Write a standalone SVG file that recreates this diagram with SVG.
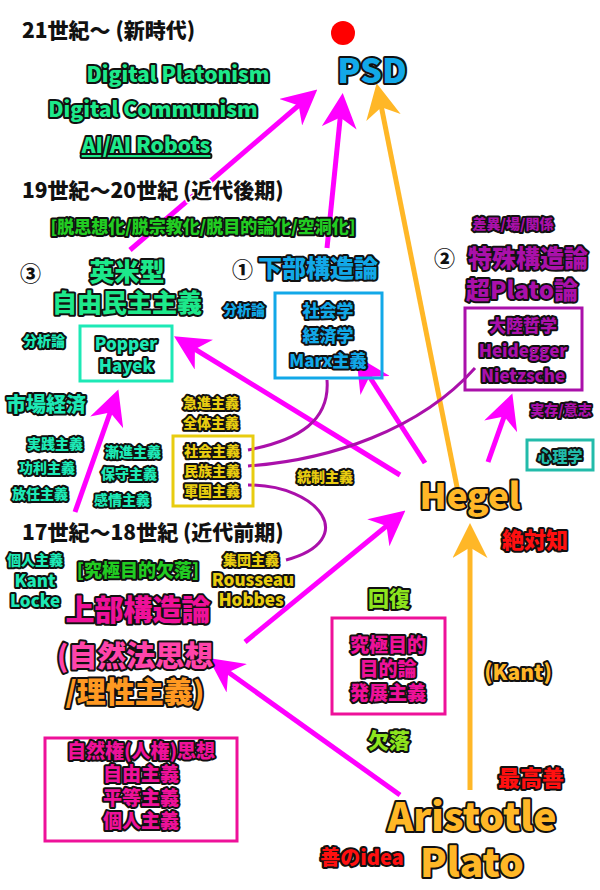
<svg xmlns="http://www.w3.org/2000/svg" width="600" height="890" viewBox="0 0 600 890">
<style>
text{font-family:"Noto Sans CJK JP","Noto Sans",sans-serif;font-weight:900;text-anchor:middle;paint-order:stroke;stroke:#111;stroke-width:4;stroke-linejoin:round}
.h{fill:#111;stroke:#fff;stroke-width:3;text-anchor:start;font-size:21px}
.g{fill:#1de98b}.t{fill:#1de9b6}.b{fill:#12a8e8}.p{fill:#aa10aa}.y{fill:#e8cc10}.o{fill:#ffb727}.r{fill:#ff1010}.k{fill:#ee1199}.lg{fill:#8ee51e}.dg{fill:#22cc22}
.box{fill:none;stroke-width:3}
.mg{stroke:#ff00ff;stroke-width:5;fill:none}
.or{stroke:#ffb727;stroke-width:5;fill:none}
.cv{stroke:#aa10aa;stroke-width:3;fill:none}
</style>
<defs>
<marker id="am" viewBox="0 0 10 10" refX="8" refY="5" markerWidth="7" markerHeight="7" markerUnits="strokeWidth" orient="auto"><path d="M0,0L10,5L0,10L3,5Z" fill="#ff00ff"/></marker>
<marker id="ao" viewBox="0 0 10 10" refX="8" refY="5" markerWidth="7" markerHeight="7" markerUnits="strokeWidth" orient="auto"><path d="M0,0L10,5L0,10L3,5Z" fill="#ffb727"/></marker>
</defs>
<g id="connectors">
<path class="mg" d="M130,250L312,94" marker-end="url(#am)"/>
<path class="mg" d="M327,248L342,100" marker-end="url(#am)"/>
<path class="or" d="M458,492L378,90" marker-end="url(#ao)"/>
<path class="or" d="M470,790L470,530" marker-end="url(#ao)"/>
<path class="mg" d="M400,475L180,340" marker-end="url(#am)"/>
<path class="mg" d="M425,463L360,362" marker-end="url(#am)"/>
<path class="mg" d="M488,462L510,400" marker-end="url(#am)"/>
<path class="mg" d="M75,512L116,396" marker-end="url(#am)"/>
<path class="mg" d="M245,642L400,515" marker-end="url(#am)"/>
<path class="mg" d="M400,795L214,662" marker-end="url(#am)"/>
<path class="cv" d="M248,450C300,440 330,420 327,380"/>
<path class="cv" d="M248,466C330,460 420,430 475,368"/>
<path class="cv" d="M248,485C320,485 360,540 286,560"/>
</g>
<g id="headers">
<text class="h" x="22" y="38">21世紀～ (新時代)</text>
<text class="h" x="22" y="198">19世紀～20世紀 (近代後期)</text>
<text class="h" x="22" y="540">17世紀～18世紀 (近代前期)</text>
</g>
<g id="psd"><circle cx="343" cy="33" r="12" fill="#ff0000"/><text class="b" x="372" y="83" font-size="34">PSD</text></g>
<g id="digital">
<text class="g" x="178" y="82" font-size="21">Digital Platonism</text>
<text class="g" x="153" y="117" font-size="21">Digital Communism</text>
<text class="g" x="146" y="153" font-size="21" text-decoration="underline">AI/AI Robots</text>
<text class="dg" x="203" y="233" font-size="17">[脱思想化/脱宗教化/脱目的論化/空洞化]</text>
</g>
<g id="anglo">
<text class="h" x="20" y="281">③</text>
<text class="g" x="127" y="281" font-size="25">英米型</text>
<text class="g" x="127" y="312" font-size="25">自由民主主義</text>
<text class="t" x="44" y="346" font-size="14">分析論</text>
<rect class="box" x="80" y="326" width="92" height="55" stroke="#1de9b6"/>
<text class="t" x="126" y="350" font-size="17">Popper</text>
<text class="t" x="126" y="372" font-size="17">Hayek</text>
<text class="t" x="46" y="412" font-size="20">市場経済</text>
<text class="t" x="55" y="449" font-size="14">実践主義</text>
<text class="t" x="47" y="473" font-size="14">功利主義</text>
<text class="t" x="40" y="499" font-size="14">放任主義</text>
<text class="t" x="133" y="457" font-size="14">漸進主義</text>
<text class="t" x="129" y="479" font-size="14">保守主義</text>
<text class="t" x="122" y="505" font-size="14">感情主義</text>
</g>
<g id="base">
<text class="h" x="232" y="277">①</text>
<text class="b" x="318" y="277" font-size="24">下部構造論</text>
<text class="b" x="244" y="315" font-size="14">分析論</text>
<rect class="box" x="275" y="293" width="107" height="85" stroke="#12a8e8"/>
<text class="b" x="328" y="317" font-size="17">社会学</text>
<text class="b" x="328" y="342" font-size="17">経済学</text>
<text class="b" x="328" y="367" font-size="17">Marx主義</text>
</g>
<g id="special">
<text class="p" x="513" y="229" font-size="14">差異/場/関係</text>
<text class="h" x="434" y="266">②</text>
<text class="p" x="528" y="267" font-size="24">特殊構造論</text>
<text class="p" x="522" y="299" font-size="24">超Plato論</text>
<rect class="box" x="465" y="308" width="117" height="82" stroke="#aa10aa"/>
<text class="p" x="523" y="332" font-size="17">大陸哲学</text>
<text class="p" x="523" y="357" font-size="17">Heidegger</text>
<text class="p" x="523" y="382" font-size="17">Nietzsche</text>
<text class="p" x="561" y="415" font-size="14">実存/意志</text>
<rect class="box" x="527" y="440" width="66" height="30" stroke="#22bbaa"/>
<text x="560" y="462" font-size="15" style="fill:#22bbaa">心理学</text>
</g>
<g id="socialism">
<text class="y" x="211" y="408" font-size="14">急進主義</text>
<text class="y" x="211" y="428" font-size="14">全体主義</text>
<rect class="box" x="173" y="436" width="80" height="70" stroke="#e8cc10"/>
<text class="y" x="212" y="456" font-size="14">社会主義</text>
<text class="y" x="212" y="476" font-size="14">民族主義</text>
<text class="y" x="212" y="496" font-size="14">軍国主義</text>
<text class="y" x="325" y="482" font-size="14">統制主義</text>
<text class="y" x="251" y="565" font-size="14">集団主義</text>
<text class="y" x="253" y="586" font-size="17">Rousseau</text>
<text class="y" x="251" y="606" font-size="17">Hobbes</text>
</g>
<g id="hegel">
<text class="o" x="470" y="509" font-size="35">Hegel</text>
<text class="r" x="535" y="548" font-size="22">絶対知</text>
</g>
<g id="super">
<text class="t" x="35" y="565" font-size="14">個人主義</text>
<text class="t" x="35" y="587" font-size="17">Kant</text>
<text class="t" x="35" y="607" font-size="17">Locke</text>
<text class="dg" x="138" y="577" font-size="18">[究極目的欠落]</text>
<text class="k" x="138" y="621" font-size="29">上部構造論</text>
<text x="135" y="667" font-size="29" style="fill:#ff44aa">(自然法思想</text>
<text x="135" y="703" font-size="29" style="fill:#ff9922">/理性主義)</text>
<rect class="box" x="45" y="738" width="192" height="103" stroke="#ee1199"/>
<text class="k" x="141" y="758" font-size="19">自然権(人権)思想</text>
<text class="k" x="141" y="781" font-size="19">自由主義</text>
<text class="k" x="141" y="805" font-size="19">平等主義</text>
<text class="k" x="141" y="828" font-size="19">個人主義</text>
</g>
<g id="telos">
<text class="lg" x="389" y="606" font-size="21">回復</text>
<rect class="box" x="332" y="618" width="113" height="96" stroke="#ee1199"/>
<text class="k" x="388" y="652" font-size="19">究極目的</text>
<text class="k" x="388" y="676" font-size="19">目的論</text>
<text class="k" x="388" y="700" font-size="19">発展主義</text>
<text class="lg" x="389" y="748" font-size="21">欠落</text>
</g>
<g id="aristotle">
<text class="o" x="518" y="680" font-size="21">(Kant)</text>
<text class="r" x="531" y="786" font-size="22">最高善</text>
<text class="o" x="472" y="831" font-size="39">Aristotle</text>
<text class="o" x="472" y="877" font-size="39">Plato</text>
<text class="r" x="362" y="865" font-size="20">善のidea</text>
</g>
</svg>
